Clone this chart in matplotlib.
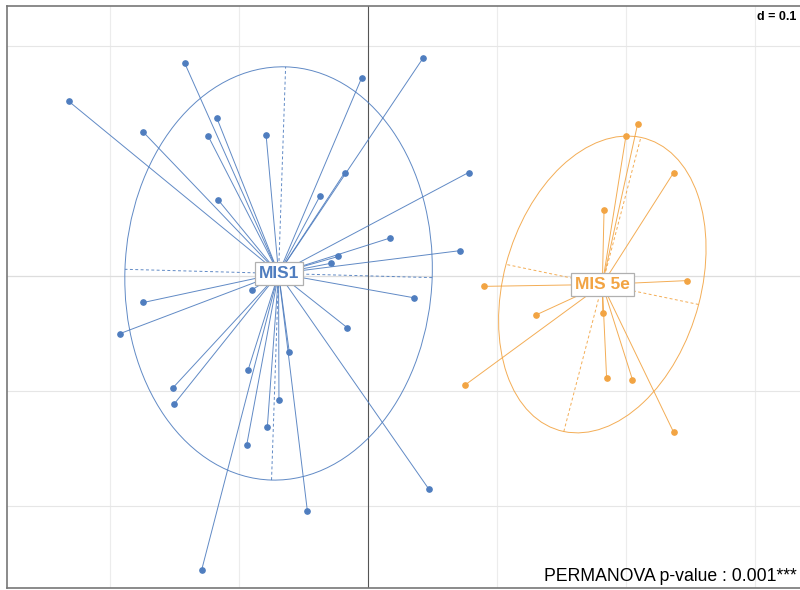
import numpy as np
import matplotlib.pyplot as plt
from matplotlib.patches import Ellipse

plt.rcParams['font.family'] = ['Liberation Sans', 'DejaVu Sans']

# sample scores on the first two axes, by group
mis1_x = [-0.232, -0.142, -0.005, -0.174, -0.117, -0.124, -0.079, -0.018, -0.037, -0.116,
          0.017, -0.023, -0.029, -0.090, 0.043, 0.078, 0.071, 0.036, -0.174, -0.192,
          -0.016, -0.061, -0.093, -0.151, -0.150, -0.069, -0.078, -0.094, -0.047, -0.129,
          0.047]
mis1_y = [0.152, 0.185, 0.172, 0.125, 0.137, 0.122, 0.123, 0.090, 0.070, 0.066,
          0.033, 0.017, 0.011, -0.012, 0.190, 0.090, 0.022, -0.019, -0.023, -0.050,
          -0.045, -0.066, -0.082, -0.097, -0.111, -0.108, -0.131, -0.147, -0.204, -0.256,
          -0.185]
mis5e_x = [0.209, 0.200, 0.237, 0.183, 0.247, 0.090, 0.130, 0.182, 0.075, 0.185, 0.205, 0.237]
mis5e_y = [0.132, 0.122, 0.090, 0.057, -0.004, -0.009, -0.034, -0.032, -0.095, -0.089, -0.090, -0.136]

groups = ["MIS1", "MIS 5e"]
colors = ["#4f7dbf", "#f2a443"]
grid_x = [-0.2, -0.1, 0.1, 0.2, 0.3]
grid_y = [0.2, -0.1, -0.2]
pvalue_text = "PERMANOVA p-value : 0.001***"
cellipse = 1.5


def draw_class(ax, x, y, label, color):
    x, y = np.asarray(x), np.asarray(y)
    cx, cy = x.mean(), y.mean()
    # stars: each sample joined to its group centroid
    for xi, yi in zip(x, y):
        ax.plot([cx, xi], [cy, yi], color=color, lw=0.7, alpha=0.9, zorder=3)
    ax.plot(x, y, "o", color=color, ms=3.8, zorder=4)
    # ade4-style inertia ellipse (population covariance, cellipse = 1.5)
    cov = np.cov(x, y, bias=True)
    vals, vecs = np.linalg.eigh(cov)
    order = vals.argsort()[::-1]
    vals, vecs = vals[order], vecs[:, order]
    a, b = cellipse * np.sqrt(vals)
    angle = np.degrees(np.arctan2(vecs[1, 0], vecs[0, 0]))
    ax.add_patch(Ellipse((cx, cy), 2 * a, 2 * b, angle=angle, fill=False,
                         edgecolor=color, lw=0.7, alpha=0.9, zorder=3))
    for k, r in enumerate([a, b]):
        dx, dy = vecs[0, k] * r, vecs[1, k] * r
        ax.plot([cx - dx, cx + dx], [cy - dy, cy + dy], color=color, lw=0.7,
                alpha=0.9, ls=(0, (3, 2.5)), zorder=3)
    ax.text(cx, cy, label, color=color, fontsize=12.5, fontweight="bold",
            ha="center", va="center", zorder=6,
            bbox=dict(boxstyle="square,pad=0.22", fc="white", ec="#b0b0b0", lw=0.9))


fig = plt.figure(figsize=(8, 5.9), dpi=100)
ax = fig.add_axes([7 / 800, 1 - 588 / 590, 1 - 7 / 800, (588 - 6) / 590])
ax.set_xlim(-0.2798, 0.3349)
ax.set_ylim(-0.2713, 0.2348)

for gx in grid_x:
    ax.axvline(gx, color="#ececec", lw=0.8, zorder=1)
for gy in grid_y:
    ax.axhline(gy, color="#e6e6e6", lw=0.8, zorder=1)
ax.axhline(0, color="#dddddd", lw=0.9, zorder=1)
ax.axvline(0, color="#555555", lw=0.8, zorder=2)

draw_class(ax, mis1_x, mis1_y, groups[0], colors[0])
draw_class(ax, mis5e_x, mis5e_y, groups[1], colors[1])

ax.text(0.996, 0.992, "d = 0.1", transform=ax.transAxes, ha="right", va="top",
        fontsize=9, fontweight="bold", zorder=7,
        bbox=dict(boxstyle="square,pad=0.15", fc="white", ec="none"))
ax.text(0.996, 0.006, pvalue_text, transform=ax.transAxes, ha="right", va="bottom",
        fontsize=12.7, zorder=7)

ax.set_xticks([])
ax.set_yticks([])
for side in ["left", "top", "bottom"]:
    ax.spines[side].set_color("#777777")
    ax.spines[side].set_linewidth(1.2)
ax.spines["right"].set_visible(False)

fig.savefig("out.png", dpi=100)
